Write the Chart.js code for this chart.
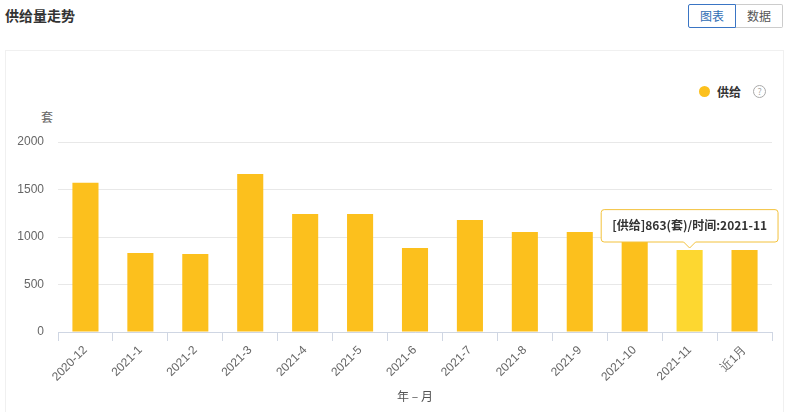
<!DOCTYPE html>
<html>
<head>
<meta charset="utf-8">
<script src="https://cdn.jsdelivr.net/npm/chart.js@4"></script>
<style>
  body { margin: 0; width: 787px; height: 412px; background: #fff; font-family: "Noto Sans CJK SC", "Noto Sans", sans-serif; position: relative; overflow: hidden; }
  .title { position: absolute; left: 5px; top: 5px; font-size: 14px; font-weight: bold; color: #333; }
  .btns { position: absolute; left: 688px; top: 4px; display: flex; }
  .btn { width: 46px; height: 22px; line-height: 22px; text-align: center; font-size: 12px; border: 1px solid #ccc; color: #555; background: #fff; }
  .btn.active { border-color: #3a75c4; color: #2f6db5; border-radius: 2px 0 0 2px; }
  .btn + .btn { border-left: none; border-radius: 0 2px 2px 0; }
  .panel { position: absolute; left: 5px; top: 50px; width: 777px; height: 370px; border: 1px solid #f0f0f0; }
  .legend { position: absolute; left: 699px; top: 83px; display: flex; align-items: center; font-size: 12px; font-weight: bold; color: #333; }
  .dot { width: 11px; height: 11px; border-radius: 50%; background: #FCC01D; margin-right: 7px; }
  .help { width: 11px; height: 11px; border: 1px solid #aaa; border-radius: 50%; color: #aaa; font-size: 9px; line-height: 11px; text-align: center; margin-left: 12px; font-weight: normal; }
  .unit { position: absolute; left: 41px; top: 108px; font-size: 12px; color: #666; }
  #wrap { position: absolute; left: 5px; top: 50px; width: 778px; height: 362px; }
</style>
</head>
<body>
<div class="title">供给量走势</div>
<div class="btns"><div class="btn active">图表</div><div class="btn">数据</div></div>
<div class="panel"></div>
<div class="legend"><div class="dot"></div>供给<div class="help">?</div></div>
<div class="unit">套</div>
<div id="wrap"><canvas id="chart"></canvas></div>
<script>
// 供给量走势 — monthly supply (套)
const months = ['2020-12', '2021-1', '2021-2', '2021-3', '2021-4', '2021-5', '2021-6',
  '2021-7', '2021-8', '2021-9', '2021-10', '2021-11', '近1月'];
const supply = [1570, 832, 822, 1663, 1242, 1242, 884, 1180, 1053, 1053, 960, 863, 863];
const yTicks = [0, 500, 1000, 1500, 2000];
const activeIndex = 11;

const ctx = document.getElementById('chart').getContext('2d');
const chart = new Chart(ctx, {
  type: 'bar',
  data: {
    labels: months,
    datasets: [{
      label: '供给',
      data: supply,
      backgroundColor: '#FCC01D',
      hoverBackgroundColor: '#FDD730',
      barPercentage: 0.5,
      categoryPercentage: 0.95,
    }]
  },
  options: {
    responsive: true,
    maintainAspectRatio: false,
    animation: false,
    events: [],
    layout: { padding: { top: 92, right: 11, left: 0, bottom: 0 } },
    plugins: {
      legend: { display: false },
      tooltip: {
        enabled: true,
        yAlign: 'bottom',
        xAlign: 'center',
        backgroundColor: '#fff',
        borderColor: '#F3C23C',
        borderWidth: 1,
        cornerRadius: 3,
        caretSize: 6,
        caretPadding: 2,
        padding: { x: 11, y: 9 },
        displayColors: false,
        bodyColor: '#333',
        bodyFont: { family: '"Noto Sans CJK SC", sans-serif', size: 12, weight: 'bold' },
        callbacks: {
          title: () => '',
          label: c => `[供给]${c.raw}(套)/时间:${c.label}`
        }
      }
    },
    scales: {
      x: {
        offset: true,
        grid: { offset: true, drawOnChartArea: false, color: '#cfd6e3', tickLength: 9 },
        border: { color: '#cfd6e3' },
        ticks: {
          color: '#666', font: { size: 12 }, minRotation: 45, maxRotation: 45, padding: 2
        },
        title: {
          display: true, text: '年 – 月', color: '#555',
          font: { family: '"Noto Sans CJK SC", sans-serif', size: 12 }, padding: { top: 2, bottom: 8 }
        },
        afterFit: s => { s.height = 80; }
      },
      y: {
        min: 0, max: 2000,
        afterBuildTicks: s => { s.ticks = yTicks.map(v => ({ value: v })); },
        grid: { color: '#e8e8e8', drawTicks: false },
        border: { display: false },
        ticks: { color: '#666', font: { size: 12 }, padding: 14, callback: v => String(v) },
        afterFit: s => { s.width = 53; }
      }
    }
  }
});

const meta = chart.getDatasetMeta(0);
const el = meta.data[activeIndex];
chart.setActiveElements([{ datasetIndex: 0, index: activeIndex }]);
chart.tooltip.setActiveElements([{ datasetIndex: 0, index: activeIndex }], { x: el.x, y: el.y });
chart.update();
</script>
</body>
</html>
